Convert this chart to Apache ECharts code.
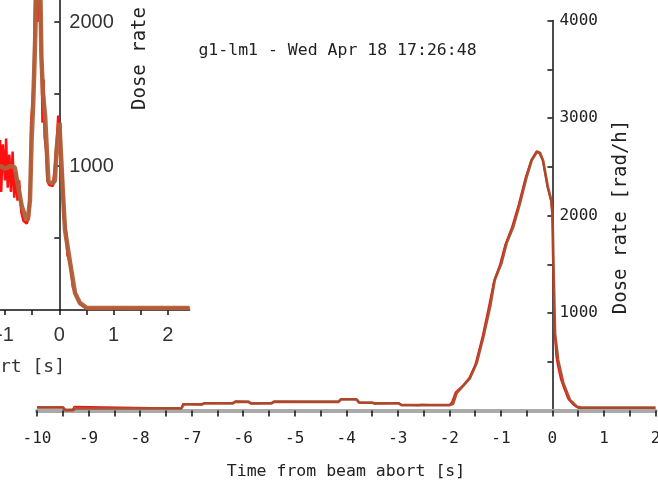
<!DOCTYPE html>
<html><head><meta charset="utf-8">
<script src="https://cdn.jsdelivr.net/npm/echarts@6/dist/echarts.min.js"></script>
<style>html,body{margin:0;padding:0;background:#fff}#c{width:658px;height:484px}</style>
</head><body><div id="c"></div>
<script>
// ---- texts ----
const titleText = 'g1-lm1 - Wed Apr 18 17:26:48';
const xAxisTitle = 'Time from beam abort [s]';
const yAxisTitle = 'Dose rate [rad/h]';

// ---- main chart ticks / labels ----
const mainXTicks = [-10,-9.5,-9,-8.5,-8,-7.5,-7,-6.5,-6,-5.5,-5,-4.5,-4,-3.5,-3,-2.5,-2,-1.5,-1,-0.5,0,0.5,1,1.5,2];
const mainXLabels = [-10,-9,-8,-7,-6,-5,-4,-3,-2,-1,0,1,2];
const mainYTicks = [500,1000,1500,2000,2500,3000,3500,4000];
const mainYLabels = [1000,2000,3000,4000];

// ---- main chart series: [time s, dose rate rad/h] ----
const mainSmooth = [[-10,33],[-9.5,33],[-9.45,5],[-9.3,5],[-9.25,22],[-7.2,22],[-7.15,63],[-6.8,63],[-6.75,74],[-6.2,74],[-6.15,90],[-5.9,90],[-5.85,74],[-5.45,74],[-5.4,90],[-4.15,90],[-4.1,115],[-3.8,115],[-3.75,80],[-3.5,80],[-3.45,74],[-2.98,74],[-2.93,56],[-2.0,56],[-1.93,67],[-1.86,178],[-1.72,260],[-1.6,333],[-1.47,487],[-1.34,757],[-1.21,1065],[-1.12,1338],[-0.99,1510],[-0.89,1717],[-0.76,1885],[-0.63,2126],[-0.5,2400],[-0.4,2570],[-0.3,2655],[-0.24,2640],[-0.18,2560],[-0.09,2295],[-0.02,2150],[0.0,2026],[0.016,1577],[0.05,790],[0.11,518],[0.21,282],[0.34,108],[0.47,40],[0.55,30],[2,30]];
const mainRaw = [[-10,30],[-9.5,30],[-9.47,0],[-9.32,0],[-9.28,40],[-9.25,22],[-7.2,22],[-7.17,70],[-6.8,60],[-6.75,80],[-6.2,74],[-6.15,95],[-5.9,88],[-5.85,70],[-5.45,78],[-5.4,92],[-4.15,88],[-4.1,118],[-3.8,112],[-3.75,82],[-3.5,78],[-3.45,70],[-2.98,76],[-2.93,60],[-2.6,50],[-2.55,62],[-2.0,55],[-1.95,90],[-1.88,190],[-1.75,250],[-1.62,330],[-1.5,470],[-1.36,760],[-1.24,1060],[-1.14,1320],[-1.02,1500],[-0.92,1700],[-0.79,1880],[-0.66,2110],[-0.53,2380],[-0.42,2560],[-0.31,2660],[-0.25,2630],[-0.19,2570],[-0.1,2300],[-0.03,2150],[0.0,2000],[0.01,1700],[0.02,1300],[0.03,1000],[0.045,760],[0.07,560],[0.1,460],[0.16,320],[0.22,230],[0.3,120],[0.4,60],[0.5,25],[2,25]];

// ---- inset ticks / labels ----
const insetXTicks = [-1.5,-1,-0.5,0,0.5,1,1.5,2];
const insetXLabels = [-1,0,1,2];
const insetYTicks = [500,1000,1500,2000];
const insetYLabels = [1000,2000];

// ---- inset series ----
const insetSmooth = [[-1.15,980],[-1.09,1000],[-1.0,980],[-0.9,1000],[-0.82,990],[-0.76,860],[-0.69,720],[-0.62,640],[-0.58,625],[-0.54,760],[-0.51,1180],[-0.48,1440],[-0.45,1800],[-0.42,2250],[-0.38,2350],[-0.35,2250],[-0.33,1760],[-0.3,1500],[-0.26,1340],[-0.23,1110],[-0.2,890],[-0.12,880],[-0.08,900],[-0.05,1110],[0.0,1300],[0.03,1090],[0.06,860],[0.105,556],[0.2,325],[0.29,118],[0.38,49],[0.51,14],[2.4,14]];
const insetRaw = [[-1.12,900],[-1.09,1180],[-1.07,820],[-1.04,1150],[-1.0,900],[-0.98,1190],[-0.95,850],[-0.92,1080],[-0.89,820],[-0.86,1100],[-0.83,780],[-0.8,960],[-0.77,760],[-0.74,900],[-0.7,680],[-0.66,620],[-0.6,600],[-0.56,650],[-0.53,900],[-0.52,1300],[-0.5,1400],[-0.47,1600],[-0.45,2150],[-0.43,2400],[-0.4,2000],[-0.38,2400],[-0.35,2100],[-0.33,1850],[-0.31,1300],[-0.29,1600],[-0.27,1200],[-0.24,1100],[-0.22,900],[-0.19,870],[-0.12,860],[-0.08,1000],[-0.05,1150],[-0.02,1350],[0.0,1200],[0.02,1300],[0.04,900],[0.06,960],[0.08,650],[0.12,560],[0.15,380],[0.2,330],[0.25,160],[0.3,110],[0.38,40],[0.5,10],[2.4,12]];

const MONO = '"DejaVu Sans Mono", monospace';
const SANS = '"Liberation Sans", Arial, sans-serif';
const TXT = '#222';
const fmt = v => String(v);

// pixel geometry of the two plot areas
const MAIN_PX_PER_S = 618.5 / 12;
const INSET_PX_PER_S = 54.3;

const chart = echarts.init(document.getElementById('c'), null, {renderer: 'canvas'});
chart.setOption({
  animation: false,
  backgroundColor: '#fff',
  grid: [
    {left: 37, top: 20.5, width: 618.5, height: 390, containLabel: false, outerBoundsMode: 'none'},
    {left: 59.3 - 1.5 * INSET_PX_PER_S, top: 0, width: 3.9 * INSET_PX_PER_S, height: 310, containLabel: false, outerBoundsMode: 'none'}
  ],
  xAxis: [
    {gridIndex: 0, type: 'value', min: -10, max: 2,
     axisLine: {onZero: false, lineStyle: {color: '#aaaaaa', width: 4}},
     axisTick: {customValues: mainXTicks, length: 6, lineStyle: {color: '#111', width: 1.5}},
     axisLabel: {customValues: mainXLabels, formatter: fmt, margin: 20, fontFamily: MONO, fontSize: 16, color: TXT},
     splitLine: {show: false}},
    {gridIndex: 1, type: 'value', min: -1.5, max: 2.4,
     axisLine: {onZero: false, lineStyle: {color: '#111', width: 1.5}},
     axisTick: {customValues: insetXTicks, length: 5, lineStyle: {color: '#111', width: 1.5}},
     axisLabel: {customValues: insetXLabels, formatter: fmt, margin: 15, fontFamily: SANS, fontSize: 20, color: '#333'},
     splitLine: {show: false}}
  ],
  yAxis: [
    {gridIndex: 0, type: 'value', min: 0, max: 4000, position: 'right', offset: -2 * MAIN_PX_PER_S,
     axisLine: {show: true, onZero: false, lineStyle: {color: '#111', width: 1.5}},
     axisTick: {customValues: mainYTicks, inside: true, length: 5, lineStyle: {color: '#111', width: 1.5}},
     axisLabel: {customValues: mainYLabels, formatter: fmt, margin: 7, fontFamily: MONO, fontSize: 16, color: TXT},
     splitLine: {show: false}},
    {gridIndex: 1, type: 'value', min: 0, max: 2152.8, position: 'right', offset: -2.4 * INSET_PX_PER_S,
     axisLine: {show: true, onZero: false, lineStyle: {color: '#111', width: 1.5}},
     axisTick: {customValues: insetYTicks, inside: true, length: 5, lineStyle: {color: '#111', width: 1.5}},
     axisLabel: {customValues: insetYLabels, formatter: fmt, margin: 10, fontFamily: SANS, fontSize: 20, color: '#333'},
     splitLine: {show: false}}
  ],
  series: [
    {type: 'line', xAxisIndex: 1, yAxisIndex: 1, data: insetRaw, showSymbol: false,
     lineStyle: {color: '#ff1010', width: 2.5}, z: 3},
    {type: 'line', xAxisIndex: 1, yAxisIndex: 1, data: insetSmooth, showSymbol: false,
     lineStyle: {color: '#b0603a', width: 4.5, opacity: 0.95}, z: 4},
    {type: 'line', xAxisIndex: 0, yAxisIndex: 0, data: mainRaw, showSymbol: false,
     lineStyle: {color: '#ff1010', width: 1.5}, z: 3},
    {type: 'line', xAxisIndex: 0, yAxisIndex: 0, data: mainSmooth, showSymbol: false,
     lineStyle: {color: '#a8492a', width: 2.8, opacity: 0.95}, z: 4}
  ],
  graphic: [
    {type: 'text', x: 337.5, y: 51, style: {text: titleText, font: '16.5px ' + MONO, fill: TXT, align: 'center', verticalAlign: 'middle'}},
    {type: 'text', x: 346, y: 472, style: {text: xAxisTitle, font: '16.5px ' + MONO, fill: TXT, align: 'center', verticalAlign: 'middle'}},
    {type: 'text', x: 621, y: 217, rotation: Math.PI / 2, style: {text: yAxisTitle, font: '19px ' + MONO, fill: TXT, align: 'center', verticalAlign: 'middle'}},
    {type: 'text', x: 140, y: 110, rotation: Math.PI / 2, style: {text: yAxisTitle, font: '19px ' + MONO, fill: TXT, align: 'left', verticalAlign: 'middle'}},
    {type: 'text', x: 65, y: 367, style: {text: xAxisTitle, font: '18px ' + MONO, fill: '#333', align: 'right', verticalAlign: 'middle'}}
  ]
});
</script></body></html>
